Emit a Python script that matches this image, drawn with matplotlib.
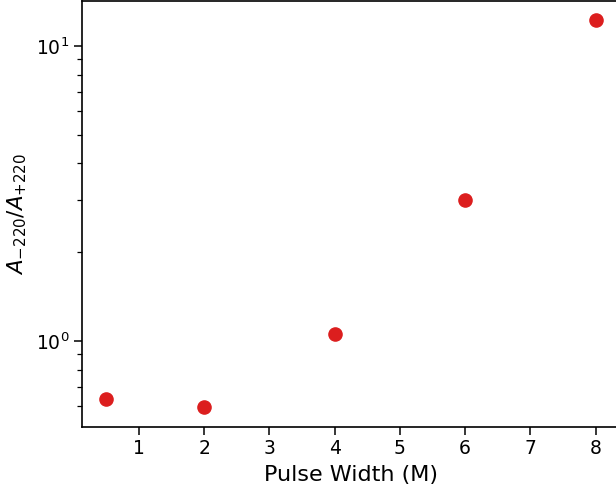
import matplotlib
matplotlib.use('Agg')
import matplotlib.pyplot as plt

# pulse width (M) vs amplitude ratio
pulse_width = [0.5, 2, 4, 6, 8]
ratio = [0.636, 0.597, 1.056, 3.0, 12.2]

fig = plt.figure(figsize=(6.16, 4.93), dpi=100)
ax = fig.add_axes([82/616, 66/493, 538/616, 426/493])
ax.scatter(pulse_width, ratio, s=90, color='#dc1e1e', zorder=3)
ax.set_yscale('log')
ax.set_xlim(0.125, 8.375)
ax.set_ylim(0.511, 14.2)
ax.set_xticks([1, 2, 3, 4, 5, 6, 7, 8])
ax.tick_params(labelsize=13.5)
ax.tick_params(which='major', length=5.5, width=1.1)
ax.tick_params(which='minor', length=3.5, width=0.9)
for s in ax.spines.values():
    s.set_linewidth(1.2)
ax.set_xlabel('Pulse Width (M)', fontsize=16, labelpad=5)
ax.set_ylabel(r'$A_{-220}/A_{+220}$', fontsize=15.5, labelpad=5)

fig.savefig('out.png', dpi=100)
